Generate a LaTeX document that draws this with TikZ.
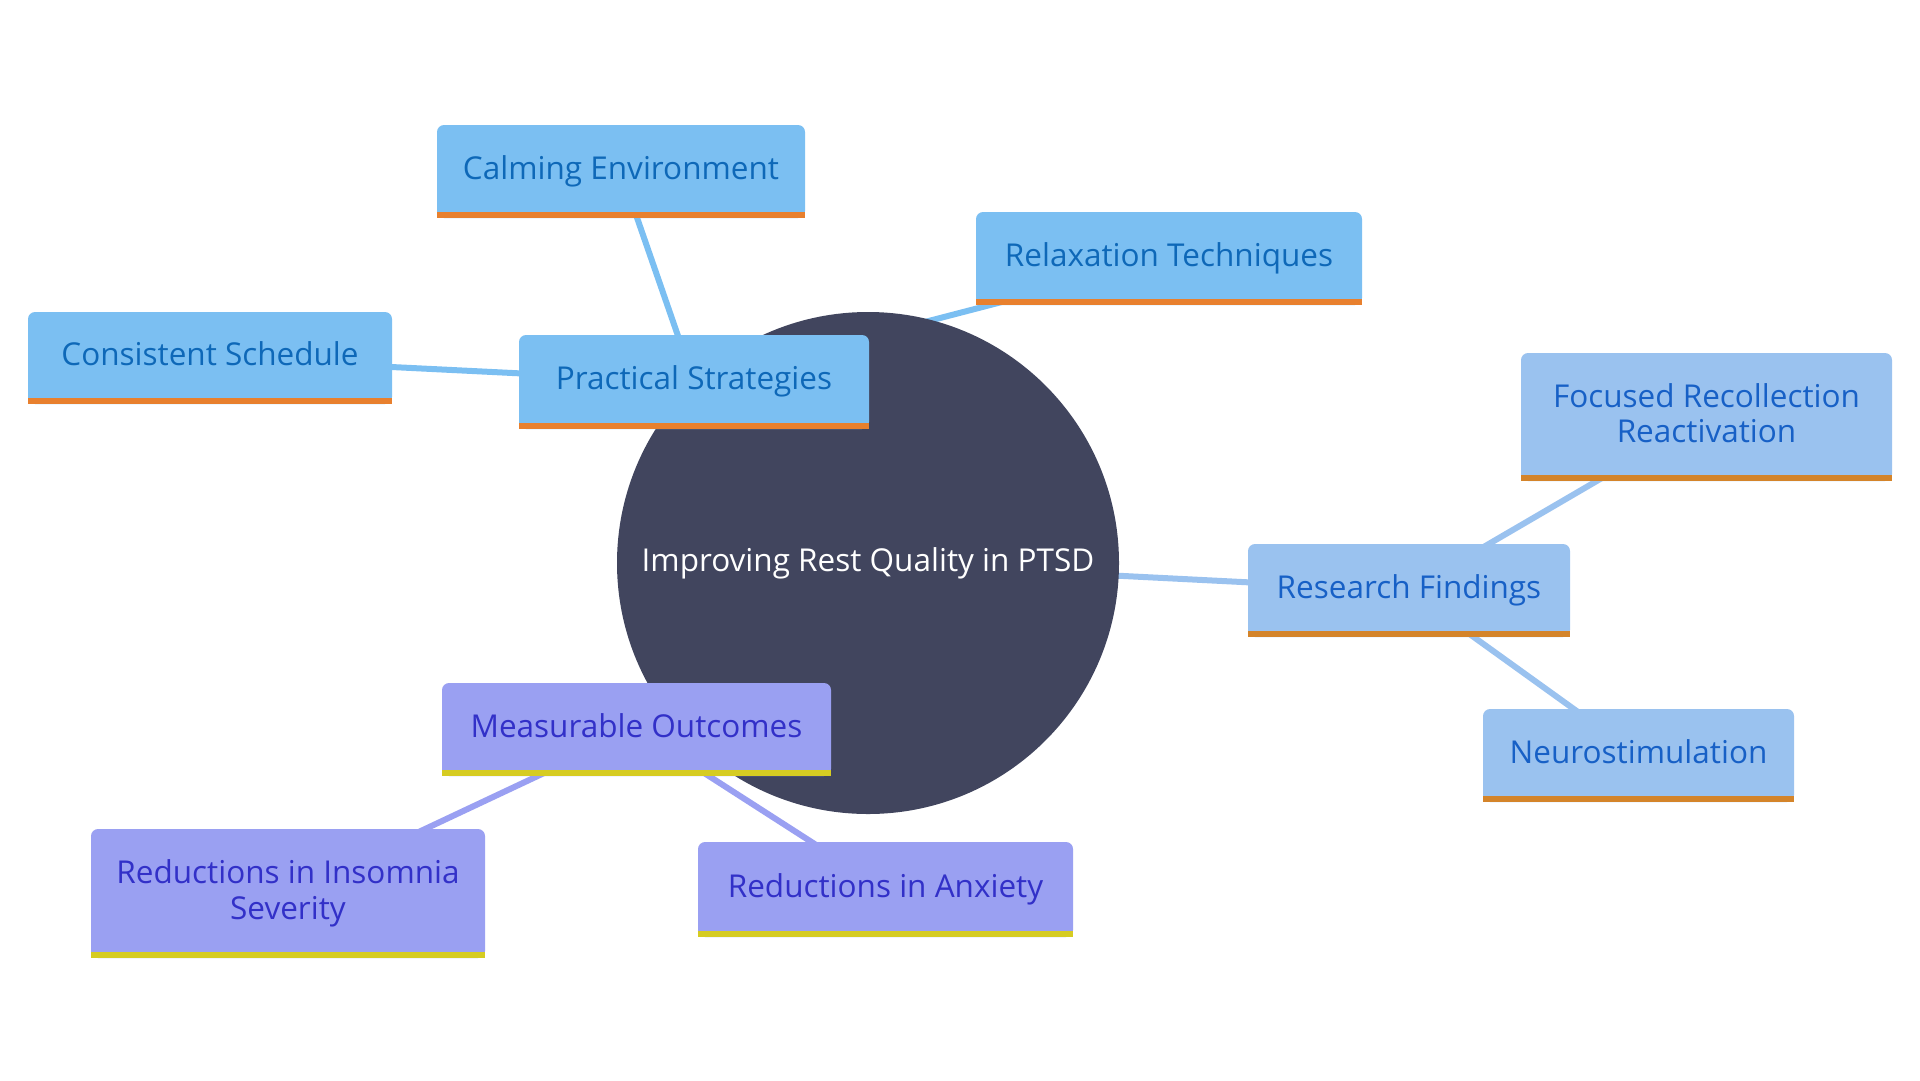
\documentclass[tikz,border=0pt]{standalone}
\usepackage{fontspec}
\setmainfont{Open Sans}
\definecolor{circ}{HTML}{41455E}
\definecolor{pfill}{HTML}{7BBFF2}
\definecolor{ptext}{HTML}{0E68B8}
\definecolor{pbar}{HTML}{E8802E}
\definecolor{rfill}{HTML}{9AC2EF}
\definecolor{rtext}{HTML}{1760C6}
\definecolor{rbar}{HTML}{D4842A}
\definecolor{mfill}{HTML}{9AA0F2}
\definecolor{mtext}{HTML}{3230C8}
\definecolor{mbar}{HTML}{D6CC22}
\pgfdeclarelayer{edges}
\pgfsetlayers{edges,main}
\tikzset{
  box/.style={rounded corners=7pt, inner sep=0pt, align=center, text depth=8pt, font=\fontsize{31.5}{35.5}\selectfont},
  pbox/.style={box, fill=pfill, text=ptext},
  rbox/.style={box, fill=rfill, text=rtext},
  mbox/.style={box, fill=mfill, text=mtext},
  pline/.style={draw=pfill, line width=6pt},
  rline/.style={draw=rfill, line width=6pt},
  mline/.style={draw=mfill, line width=6pt}
}
\begin{document}
\begin{tikzpicture}[x=1pt,y=-1pt]
\useasboundingbox (0,0) rectangle (1920,1080);
\node[circle, fill=circ, minimum size=502pt, inner sep=0pt, text=white, font=\fontsize{31.5}{36}\selectfont] (c) at (868,563) {Improving Rest Quality in PTSD};

\node[pbox, minimum width=368pt, minimum height=93pt] (cal) at (621,171.5) {Calming Environment};
\node[pbox, minimum width=386pt, minimum height=93pt] (rel) at (1169,258.5) {Relaxation Techniques};
\node[pbox, minimum width=364pt, minimum height=92pt] (con) at (210,358) {Consistent Schedule};
\node[pbox, minimum width=350pt, minimum height=94pt] (ps) at (694,382) {Practical Strategies};
\node[rbox, minimum width=371pt, minimum height=128pt] (foc) at (1706.5,417) {Focused Recollection\\Reactivation};
\node[rbox, minimum width=322pt, minimum height=93pt] (rf) at (1409,590.5) {Research Findings};
\node[rbox, minimum width=311pt, minimum height=93pt] (neu) at (1638.5,755.5) {Neurostimulation};
\node[mbox, minimum width=389pt, minimum height=93pt] (mo) at (636.5,729.5) {Measurable Outcomes};
\node[mbox, minimum width=394pt, minimum height=129pt] (ins) at (288,893.5) {Reductions in Insomnia\\Severity};
\node[mbox, minimum width=375pt, minimum height=95pt] (anx) at (885.5,889.5) {Reductions in Anxiety};

\foreach \n in {cal,rel,con,ps}{\fill[pbar] (\n.south west) rectangle ([yshift=6pt]\n.south east);}
\foreach \n in {foc,rf,neu}{\fill[rbar] (\n.south west) rectangle ([yshift=6pt]\n.south east);}
\foreach \n in {mo,ins,anx}{\fill[mbar] (\n.south west) rectangle ([yshift=6pt]\n.south east);}

\begin{pgfonlayer}{edges}
\draw[pline] (c.center) -- (ps.center);
\draw[pline] (ps.center) -- (rel.center);
\draw[pline] (ps.center) -- (cal.center);
\draw[pline] (ps.center) -- (con.center);
\draw[rline] (c.center) -- (rf.center);
\draw[rline] (rf.center) -- (foc.center);
\draw[rline] (rf.center) -- (neu.center);
\draw[mline] (c.center) -- (mo.center);
\draw[mline] (mo.center) -- (ins.center);
\draw[mline] (mo.center) -- (anx.center);
\end{pgfonlayer}
\end{tikzpicture}
\end{document}
